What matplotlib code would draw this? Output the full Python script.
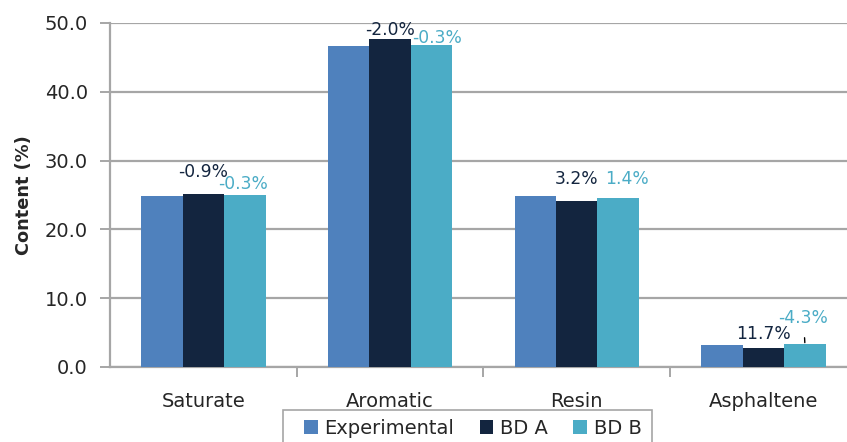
import numpy as np
from matplotlib import pyplot as plt
from matplotlib.patches import Rectangle

# SARA fractions, measured vs. the two BD models (wt %)
categories = ["Saturate", "Aromatic", "Resin", "Asphaltene"]
series_names = ["Experimental", "BD A", "BD B"]
experimental = [24.9, 46.7, 24.9, 3.2]
bd_a = [25.12, 47.63, 24.1, 2.83]
bd_b = [24.97, 46.84, 24.55, 3.34]
# relative deviation of each model from experiment
bd_a_labels = ["-0.9%", "-2.0%", "3.2%", "11.7%"]
bd_b_labels = ["-0.3%", "-0.3%", "1.4%", "-4.3%"]

colors = ["#4F81BD", "#13253F", "#4BACC6"]
GRID = "#A6A6A6"
TEXT = "#262626"

# label offsets in points (dx, dy) from each bar top
bd_a_offsets = [(0, 16), (0, 7), (0, 16), (0, 10)]
bd_b_offsets = [(-1, 8), (4, 5), (6, 14), (-1, 19)]

plt.rcParams["font.family"] = ["DejaVu Sans"]

fig = plt.figure(figsize=(8.47, 4.42), dpi=100)
ax = fig.add_axes((110 / 847, 75 / 442, 737 / 847, 344 / 442))

x = np.arange(len(categories))
width = 0.222
series = [experimental, bd_a, bd_b]
for k, (vals, name, c) in enumerate(zip(series, series_names, colors)):
    ax.bar(x + (k - 1) * width, vals, width, color=c, label=name, zorder=3)

for i in range(len(categories)):
    ax.annotate(bd_a_labels[i], (x[i], bd_a[i]), xytext=bd_a_offsets[i],
                textcoords="offset points", ha="center", va="center",
                fontsize=12.3, color=colors[1], zorder=4)
    props = None
    if i == 3:
        props = dict(arrowstyle="-", color="black", lw=1, shrinkA=6, shrinkB=1)
    ax.annotate(bd_b_labels[i], (x[i] + width, bd_b[i]), xytext=bd_b_offsets[i],
                textcoords="offset points", ha="center", va="center",
                fontsize=12.3, color=colors[2], zorder=4, arrowprops=props)

ax.set_xlim(-0.5, -0.5 + 737 / 186.7)
ax.set_ylim(0, 50)
ax.set_yticks(np.arange(0, 51, 10))
ax.set_yticklabels(["%.1f" % v for v in np.arange(0, 51, 10)])
ax.yaxis.grid(True, color=GRID, lw=1.6, zorder=0)

ax.set_xticks(x)
ax.set_xticklabels(categories)
ax.set_xticks([0.5, 1.5, 2.5], minor=True)
ax.tick_params(axis="x", which="major", length=0, pad=18, labelsize=14, labelcolor=TEXT)
ax.tick_params(axis="x", which="minor", length=7, width=1.4, color=GRID, direction="out")
ax.tick_params(axis="y", length=7, width=1.4, color=GRID, pad=9, labelsize=14, labelcolor=TEXT)

for s in ("top", "right"):
    ax.spines[s].set_visible(False)
for s in ("left", "bottom"):
    ax.spines[s].set_color(GRID)
    ax.spines[s].set_linewidth(1.6)

ax.set_ylabel("Content (%)", fontsize=12.8, fontweight="bold", color=TEXT, labelpad=8)

# legend frame runs off the bottom of the figure
fig.patches.append(Rectangle((283 / 847, -0.05), 369 / 847, 0.05 + 1 - 410 / 442,
                             transform=fig.transFigure, fill=False,
                             edgecolor=GRID, lw=1.2))
leg = fig.legend(loc="center left", bbox_to_anchor=(304 / 847, 1 - 428 / 442),
                 borderaxespad=0, borderpad=0, frameon=False,
                 ncol=3, fontsize=14, handlelength=0.7, handleheight=0.7,
                 handletextpad=0.35, columnspacing=1.3, labelcolor=TEXT)

fig.savefig("out.png", dpi=100)
